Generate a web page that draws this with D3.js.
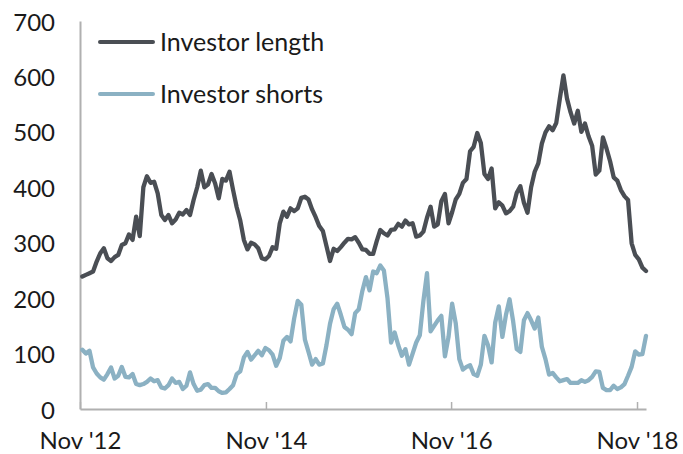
<!DOCTYPE html>
<html>
<head>
<meta charset="utf-8">
<script src="https://cdn.jsdelivr.net/npm/d3@7"></script>
<style>
  html, body { margin: 0; padding: 0; background: #ffffff; }
  svg { display: block; }
  text { font-family: Lato, "Open Sans", "DejaVu Sans", sans-serif; fill: #1a1a1a; }
</style>
</head>
<body>
<svg id="chart" width="683" height="454"></svg>
<script>
// ---------- data ----------
// fortnightly observations starting 6 Nov 2012
const startDate = "2012-11-06";
const stepDays = 14;

const investorLength = [
  239, 242, 245, 248, 266, 281, 290, 272, 267, 274,
  278, 296, 299, 315, 305, 347, 312, 400, 420, 408,
  410, 389, 350, 341, 350, 335, 342, 354, 351, 359,
  350, 377, 400, 430, 400, 405, 424, 407, 380, 415,
  412, 428, 395, 364, 340, 305, 288, 300, 297, 290,
  272, 270, 276, 292, 289, 335, 356, 347, 362, 357,
  362, 381, 383, 378, 360, 346, 330, 321, 294, 267,
  289, 285, 292, 300, 307, 306, 310, 300, 288, 287,
  280, 280, 303, 323, 317, 313, 323, 324, 334, 329,
  340, 333, 335, 311, 313, 320, 345, 365, 329, 333,
  375, 388, 335, 355, 378, 388, 408, 415, 465, 473,
  498, 480, 424, 415, 434, 362, 373, 367, 353, 357,
  365, 390, 402, 372, 354, 400, 428, 443, 479, 499,
  510, 503, 516, 560, 602, 560, 535, 515, 538, 500,
  515, 492, 475, 423, 430, 490, 470, 447, 418, 412,
  395, 384, 377, 299, 278, 270, 255, 249
];

const investorShorts = [
  107, 100, 105, 75, 64, 57, 53, 63, 75, 55,
  60, 76, 58, 57, 63, 45, 43, 45, 49, 55,
  50, 52, 39, 37, 43, 55, 47, 49, 36, 42,
  66, 45, 33, 35, 43, 45, 38, 38, 32, 29,
  30, 36, 43, 63, 68, 93, 103, 89, 97, 105,
  97, 110, 106, 98, 78, 92, 123, 130, 122, 163,
  195, 188, 125, 103, 80, 90, 80, 82, 115, 154,
  180, 190, 170, 148, 143, 135, 173, 180, 213, 238,
  214, 248, 245, 259, 250, 200, 120, 138, 115, 96,
  108, 80, 100, 120, 133, 195, 245, 140, 150, 160,
  168, 95, 130, 190, 155, 90, 71, 76, 79, 63,
  60, 80, 132, 115, 84, 156, 185, 130, 170, 198,
  158, 108, 103, 160, 173, 160, 145, 165, 112, 90,
  62, 65, 57, 50, 52, 54, 47, 47, 47, 52,
  49, 52, 58, 68, 67, 38, 34, 34, 42, 36,
  39, 45, 60, 76, 104, 98, 99, 132
];

const seriesNames = ["Investor length", "Investor shorts"];
const seriesColors = ["#4a4e54", "#8bb1c3"];

const yTicks = [0, 100, 200, 300, 400, 500, 600, 700];
const xTickDates = ["2012-10-28", "2014-10-23", "2016-10-14", "2018-10-09"];
const xTickLabels = ["Nov '12", "Nov '14", "Nov '16", "Nov '18"];
const xDomain = ["2012-10-28", "2018-11-13"];

// ---------- drawing ----------
const parse = d3.utcParse("%Y-%m-%d");
const t0 = parse(startDate);
const dates = investorLength.map((_, i) => d3.utcDay.offset(t0, i * stepDays));

const svg = d3.select("#chart");
const margin = { left: 80, right: 37, top: 21, bottom: 45 };
const W = 683, H = 454;

const x = d3.scaleUtc()
  .domain(xDomain.map(parse))
  .range([margin.left, W - margin.right]);
const y = d3.scaleLinear()
  .domain([0, 700])
  .range([H - margin.bottom, margin.top]);

// y axis
const yAxis = svg.append("g")
  .attr("transform", `translate(${margin.left},0)`)
  .call(d3.axisLeft(y).tickValues(yTicks).tickSize(0).tickPadding(25).tickSizeOuter(0));
yAxis.select(".domain").attr("stroke", "#b0b0b0").attr("stroke-width", 2);
yAxis.selectAll("text")
  .attr("dy", null).attr("y", 9)
  .style("font-size", "24px");

// x axis
const tickDates = xTickDates.map(parse);
const xAxis = svg.append("g")
  .attr("transform", `translate(0,${y(0)})`)
  .call(d3.axisBottom(x).tickValues(tickDates).tickSizeInner(-7).tickSizeOuter(0)
    .tickFormat((d, i) => xTickLabels[i]));
xAxis.select(".domain").attr("stroke", "#b0b0b0").attr("stroke-width", 2);
xAxis.selectAll(".tick line").attr("stroke", "#b0b0b0").attr("stroke-width", 1.5);
xAxis.selectAll("text")
  .attr("dy", null).attr("y", 39.5)
  .style("font-size", "24px");

// lines
const series = [investorLength, investorShorts];
const lineGen = d3.line()
  .x((d, i) => x(dates[i]))
  .y(d => y(d));

series.slice().reverse().forEach((vals, k) => {
  const idx = series.length - 1 - k;
  svg.append("path")
    .datum(vals)
    .attr("fill", "none")
    .attr("stroke", seriesColors[idx])
    .attr("stroke-width", 4.3)
    .attr("stroke-linejoin", "round")
    .attr("stroke-linecap", "round")
    .attr("d", lineGen);
});

// legend
const legend = svg.append("g").attr("transform", "translate(100,42)");
seriesNames.forEach((name, i) => {
  const g = legend.append("g").attr("transform", `translate(0,${i * 52})`);
  g.append("line")
    .attr("x1", 0).attr("x2", 53).attr("y1", 0).attr("y2", 0)
    .attr("stroke", seriesColors[i]).attr("stroke-width", 4)
    .attr("stroke-linecap", "round");
  g.append("text")
    .attr("x", 60).attr("y", 9)
    .style("font-size", "25px")
    .text(name);
});
</script>
</body>
</html>
